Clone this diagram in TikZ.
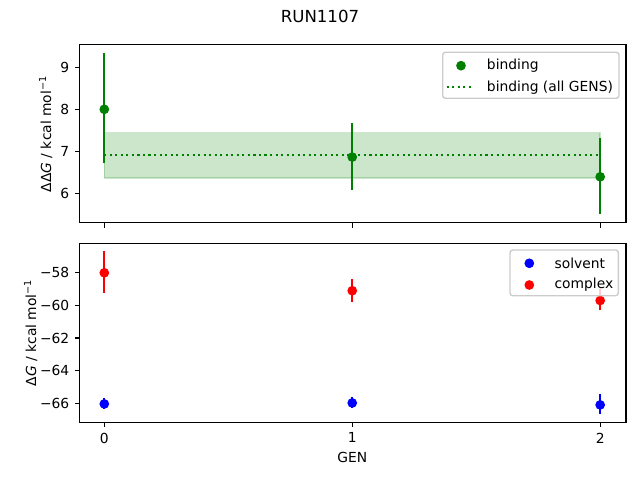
\documentclass[tikz,border=0pt]{standalone}
\usepackage{fontspec}
\setmainfont{DejaVu Sans}
\usepackage{tikz}
\usetikzlibrary{positioning,calc}
\usepackage{xcolor}

\definecolor{mplgreen}{RGB}{0,128,0}
\definecolor{mplred}{RGB}{255,0,0}
\definecolor{mplblue}{RGB}{0,0,255}
\definecolor{legendgray}{RGB}{204,204,204}

\tikzset{
    errbar/.style={line width=1.5bp},
    dotted line/.style={line width=1.5bp, dash pattern=on 1.5bp off 2.475bp},
    dot/.style={circle, inner sep=0pt, minimum size=7bp},
    axframe/.style={line width=0.8bp},
    tickmark/.style={line width=0.8bp},
    ticklab/.style={inner sep=0pt, font=\fontsize{10}{12}\selectfont},
    legendbox/.style={draw=legendgray, fill=white, fill opacity=0.8, rounded corners=2bp, line width=1bp},
    legtext/.style={anchor=west, inner sep=0pt}
}

\begin{document}
\begin{tikzpicture}[x=0.01in, y=-0.01in]
    \useasboundingbox (0,0) rectangle (640,480);

    % Title
    \node[font=\large] (title) at (320,16) {RUN1107};

    % Top panel: binding
    \begin{scope}[shift={(104.3,444.7)}, x=2.478in, y=0.419in]
        \filldraw[draw=mplgreen, fill=mplgreen, opacity=0.2, line width=1bp] (0,6.36) rectangle (2,7.44);
        \draw[mplgreen, dotted line] (0,6.9) -- (2,6.9);
        \foreach \x/\v/\lo/\hi in {0/8.0/6.71/9.34, 1/6.86/6.07/7.67, 2/6.39/5.50/7.31} {
            \draw[mplgreen, errbar] (\x,\lo) -- (\x,\hi);
            \node[dot, fill=mplgreen] (bind\x) at (\x,\v) {};
        }
        \draw[axframe] (-0.1,5.29) rectangle (2.104,9.54);
        \foreach \x in {0,1,2}
            \draw[tickmark] (\x,5.29) -- ++(0pt,-3.5bp);
        \foreach \v in {6,...,9}
            \draw[tickmark] (-0.1,\v) -- ++(-3.5bp,0pt) node[ticklab, left=3.5bp] (ytop\v) {\v};
    \end{scope}
    \node[rotate=90] (ylabtop) at (45.8,134) {ΔΔ\textit{G} / kcal mol\textsuperscript{−1}};

    % Bottom panel: solvent and complex
    \begin{scope}[shift={(104.3,-673.1)}, x=2.478in, y=0.163in]
        \foreach \x/\v/\lo/\hi in {0/-66.04/-66.35/-65.70, 1/-65.98/-66.30/-65.60, 2/-66.10/-66.65/-65.42} {
            \draw[mplblue, errbar] (\x,\lo) -- (\x,\hi);
            \node[dot, fill=mplblue] (solv\x) at (\x,\v) {};
        }
        \foreach \x/\v/\lo/\hi in {0/-58.00/-59.23/-56.69, 1/-59.10/-59.78/-58.37, 2/-59.70/-60.31/-58.98} {
            \draw[mplred, errbar] (\x,\lo) -- (\x,\hi);
            \node[dot, fill=mplred] (cplx\x) at (\x,\v) {};
        }
        \draw[axframe] (-0.1,-67.18) rectangle (2.104,-56.22);
        \foreach \x in {0,1,2}
            \draw[tickmark] (\x,-67.18) -- ++(0pt,-3.5bp) node[ticklab, below=3.5bp] (xbot\x) {\x};
        \foreach \v in {58,60,...,66}
            \draw[tickmark] (-0.1,-\v) -- ++(-3.5bp,0pt) node[ticklab, left=3.5bp] (ybot\v) {−\v};
    \end{scope}
    \node[rotate=90] (ylabbot) at (30.8,332.7) {Δ\textit{G} / kcal mol\textsuperscript{−1}};
    \node (xlab) at (352.3,457.3) {GEN};

    % Legends
    \draw[legendbox] (442.7,52.3) rectangle (619,98.3);
    \node[dot, fill=mplgreen] (legbind) at (461,65.7) {};
    \node[legtext] (legbindtxt) at (486.7,65.7) {binding};
    \coordinate (legallA) at (446.7,87.3);
    \coordinate (legallB) at (472.3,87.3);
    \draw[mplgreen, dotted line] (legallA) -- (legallB);
    \node[legtext] (legalltxt) at (486.7,87.3) {binding (all GENS)};

    \draw[legendbox] (510,250) rectangle (618.3,295.7);
    \node[dot, fill=mplblue] (legsolv) at (529.3,263.3) {};
    \node[legtext] (legsolvtxt) at (554.3,263.3) {solvent};
    \node[dot, fill=mplred] (legcplx) at (529.3,285) {};
    \node[legtext] (legcplxtxt) at (554.3,285) {complex};
\end{tikzpicture}
\end{document}
